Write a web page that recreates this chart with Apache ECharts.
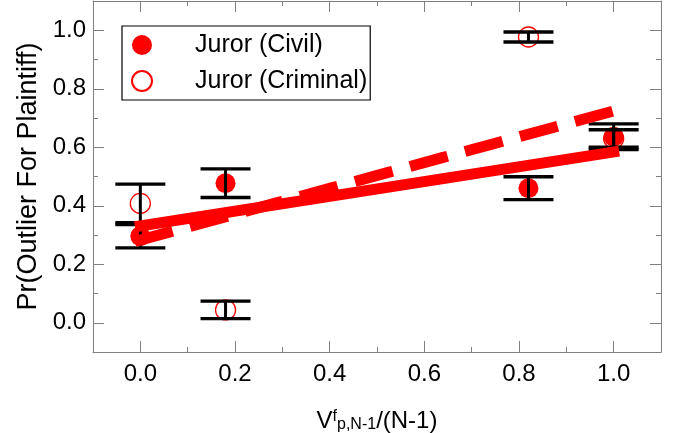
<!DOCTYPE html>
<html>
<head>
<meta charset="utf-8">
<script src="https://cdn.jsdelivr.net/npm/echarts@6/dist/echarts.min.js"></script>
<style>
  html, body { margin: 0; padding: 0; background: #fff; }
  #chart { width: 681px; height: 433px; }
</style>
</head>
<body>
<div id="chart"></div>
<script>
// data
const civilX = [0, 0.18, 0.82, 1.0]
const civilY = [0.296, 0.477, 0.460, 0.636]
const civilErr = [0.040, 0.049, 0.039, 0.044]
const criminalX = [0, 0.18, 0.82, 1.0]
const criminalY = [0.408, 0.044, 0.977, 0.630]
const criminalErr = [0.066, 0.030, 0.017, 0.030]
// fitted lines (end points)
const fitX = [0, 1]
const civilFit = [0.331, 0.584]
const criminalFit = [0.283, 0.724]
// tick values
const majorTicks = [0, 0.2, 0.4, 0.6, 0.8, 1.0]
const minorTicks = [0.1, 0.3, 0.5, 0.7, 0.9]

const RED = "#ff0000"
const AXIS_GREY = "#808080"
const FONT = "Liberation Sans, Arial, sans-serif"

const pairs = (xs, ys) => xs.map((x, i) => [x, ys[i]])
const errRows = (xs, ys, es) => xs.map((x, i) => [x, ys[i], ys[i] - es[i], ys[i] + es[i]])

// one axis per side for the long ticks, one more for the short ones
function makeAxis(position, major, withLabels) {
  return {
    type: "value",
    position: position,
    min: -0.1,
    max: 1.1,
    axisLine: { show: major, onZero: false, lineStyle: { color: AXIS_GREY, width: 1 } },
    axisTick: {
      show: true,
      inside: true,
      length: major ? 11 : 5,
      customValues: major ? majorTicks : minorTicks,
      lineStyle: { color: AXIS_GREY, width: 1 }
    },
    axisLabel: {
      show: withLabels,
      customValues: majorTicks,
      formatter: v => v.toFixed(1),
      fontSize: 24,
      fontFamily: FONT,
      color: "#000"
    },
    splitLine: { show: false }
  }
}

const xAxes = [makeAxis("bottom", true, true), makeAxis("bottom", false, false), makeAxis("top", true, false), makeAxis("top", false, false)]
const yAxes = [makeAxis("left", true, true), makeAxis("left", false, false), makeAxis("right", true, false), makeAxis("right", false, false)]

xAxes[0].axisLabel.margin = 10
yAxes[0].axisLabel.margin = 7

xAxes[0].name = "{a|V}{sup|f}{sub|p,N-1}{a|/(N-1)}"
xAxes[0].nameLocation = "middle"
xAxes[0].nameGap = 54
xAxes[0].nameTextStyle = {
  fontFamily: FONT,
  color: "#000",
  rich: {
    a: { fontSize: 24, fontFamily: FONT, color: "#000", lineHeight: 30 },
    sup: { fontSize: 16, fontFamily: FONT, color: "#000", padding: [0, 0, 8, 0] },
    sub: { fontSize: 16, fontFamily: FONT, color: "#000", padding: [8, 0, 0, 0] }
  }
}

yAxes[0].name = "Pr(Outlier For Plaintiff)"
yAxes[0].nameLocation = "middle"
yAxes[0].nameGap = 50
yAxes[0].nameTextStyle = { fontSize: 27, fontFamily: FONT, color: "#000" }

function renderErrorBar(params, api) {
  const x = api.value(0)
  const lo = api.coord([x, api.value(2)])
  const hi = api.coord([x, api.value(3)])
  const half = 25
  const style = { stroke: "#000", lineWidth: 3.4 }
  return {
    type: "group",
    children: [
      { type: "line", shape: { x1: lo[0], y1: lo[1], x2: hi[0], y2: hi[1] }, style: { stroke: "#000", lineWidth: 3 } },
      { type: "line", shape: { x1: lo[0] - half, y1: lo[1], x2: lo[0] + half, y2: lo[1] }, style: style },
      { type: "line", shape: { x1: hi[0] - half, y1: hi[1], x2: hi[0] + half, y2: hi[1] }, style: style }
    ]
  }
}

const chart = echarts.init(document.getElementById("chart"), null, { renderer: "canvas" })
chart.setOption({
  animation: false,
  grid: { left: 93, right: 20, top: 1, bottom: 81, outerBoundsMode: "none" },
  legend: {
    data: ["Juror (Civil)", "Juror (Criminal)"],
    orient: "vertical",
    left: 122,
    top: 26,
    width: 247,
    padding: [5, 3, 5, 9],
    itemGap: 8,
    itemWidth: 20,
    itemHeight: 20,
    borderColor: "#000",
    borderWidth: 1.2,
    borderRadius: 0,
    textStyle: { fontSize: 25, fontFamily: FONT, color: "#000", lineHeight: 28, padding: [0, 0, 0, 38] }
  },
  xAxis: xAxes,
  yAxis: yAxes,
  series: [
    {
      name: "Juror (Civil)",
      type: "scatter",
      symbol: "circle",
      symbolSize: 20,
      itemStyle: { color: RED, opacity: 1 },
      data: pairs(civilX, civilY),
      z: 2
    },
    {
      name: "Juror (Criminal)",
      type: "scatter",
      symbol: "circle",
      symbolSize: 20,
      itemStyle: { color: "rgba(255,255,255,0)", borderColor: RED, borderWidth: 1.3, opacity: 1 },
      data: pairs(criminalX, criminalY),
      z: 1
    },
    {
      name: "civil error",
      type: "custom",
      renderItem: renderErrorBar,
      data: errRows(civilX, civilY, civilErr),
      z: 3
    },
    {
      name: "criminal error",
      type: "custom",
      renderItem: renderErrorBar,
      data: errRows(criminalX, criminalY, criminalErr),
      z: 3
    },
    {
      name: "civil fit",
      type: "line",
      showSymbol: false,
      symbol: "none",
      lineStyle: { color: RED, width: 11, cap: "square" },
      data: pairs(fitX, civilFit),
      z: 4
    },
    {
      name: "criminal fit",
      type: "line",
      showSymbol: false,
      symbol: "none",
      lineStyle: { color: RED, width: 11, cap: "square", type: [28, 29], dashOffset: 0 },
      data: pairs(fitX, criminalFit),
      z: 4
    }
  ]
})
</script>
</body>
</html>
